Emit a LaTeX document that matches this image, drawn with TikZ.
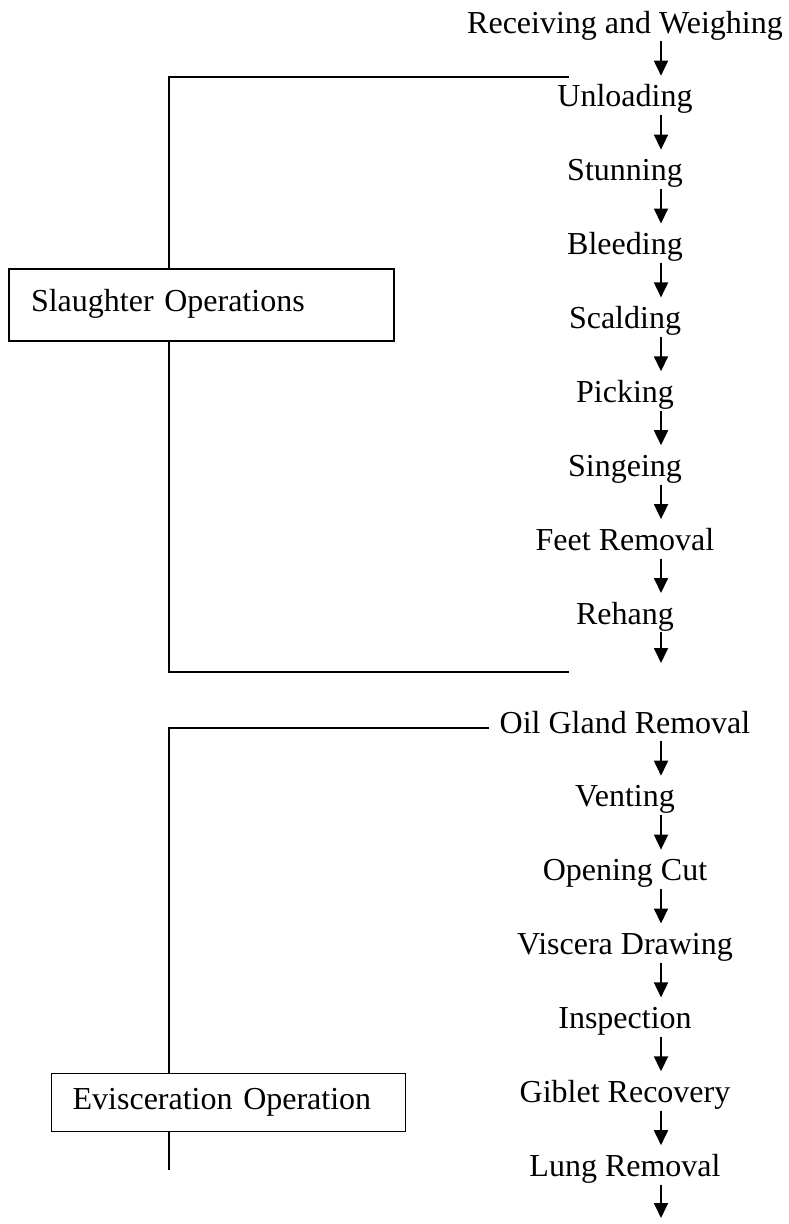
\documentclass[tikz,border=0pt]{standalone}
\usepackage{fontspec}
\setmainfont{Liberation Serif}
\usetikzlibrary{positioning, calc, arrows.meta}

\begin{document}
\begin{tikzpicture}[
    x=1pt, y=-1pt,
    node distance=44.5pt,
    stepnode/.style={inner sep=0pt, text height=21pt, text depth=8pt,
                     font=\fontsize{32}{38}\selectfont},
    opbox/.style={rectangle, draw, anchor=north west, align=left,
                  inner ysep=0pt, text height=21pt, text depth=8pt,
                  font=\fontsize{32}{38}\selectfont},
    arrow/.style={-{Triangle[width=14pt, length=15pt]}, line width=1.8pt,
                  shorten >=10pt},
    bracket/.style={line width=2pt},
    thinbracket/.style={line width=1.3pt},
  ]
    \useasboundingbox (0,0) rectangle (788,1224);
    \coordinate (col) at (661,0);
    \coordinate (spine) at (169,0);

    % Slaughter steps
    \node[stepnode, anchor=base] (recv) at (625,33) {Receiving and Weighing};
    \node[stepnode, below=of recv] (unload) {Unloading};
    \node[stepnode, below=of unload] (stun) {Stunning};
    \node[stepnode, below=of stun] (bleed) {Bleeding};
    \node[stepnode, below=of bleed] (scald) {Scalding};
    \node[stepnode, below=of scald] (pick) {Picking};
    \node[stepnode, below=of pick] (singe) {Singeing};
    \node[stepnode, below=of singe] (feet) {Feet Removal};
    \node[stepnode, below=of feet] (rehang) {Rehang};
    \coordinate (rehangOut) at (661,673);

    % Evisceration steps
    \node[stepnode, anchor=base] (oil) at (625,733) {Oil Gland Removal};
    \node[stepnode, below=of oil] (vent) {Venting};
    \node[stepnode, below=of vent] (cut) {Opening Cut};
    \node[stepnode, below=of cut] (viscera) {Viscera Drawing};
    \node[stepnode, below=of viscera] (inspect) {Inspection};
    \node[stepnode, below=of inspect] (giblet) {Giblet Recovery};
    \node[stepnode, below=of giblet] (lung) {Lung Removal};
    \coordinate (lungOut) at (661,1228);

    \foreach \a/\b in {recv/unload, unload/stun, stun/bleed, bleed/scald,
                       scald/pick, pick/singe, singe/feet, feet/rehang,
                       rehang/rehangOut, oil/vent, vent/cut, cut/viscera,
                       viscera/inspect, inspect/giblet, giblet/lung, lung/lungOut}
      \draw[arrow] (\a.south -| col) -- (\b.north -| col);

    % Slaughter Operations bracket
    \node[opbox, line width=2pt, inner xsep=22pt, text width=341pt,
          minimum height=72pt] (slaughter) at (8,268) {Slaughter Operations};
    \coordinate (slTop) at (569,77);
    \coordinate (slBot) at (569,672);
    \draw[bracket] (slTop) -| (slaughter.north -| spine);
    \draw[bracket] (slaughter.south -| spine) |- (slBot);

    % Evisceration Operation bracket
    \node[opbox, line width=1.3pt, inner xsep=21pt, text width=312pt,
          minimum height=58pt] (evisc) at (51,1073) {Evisceration Operation};
    \coordinate (evTop) at (489,728);
    \coordinate (evBot) at (169,1170);
    \draw[thinbracket] (evTop) -| (evisc.north -| spine);
    \draw[thinbracket] (evisc.south -| spine) -- (evBot);
  \end{tikzpicture}
\end{document}
